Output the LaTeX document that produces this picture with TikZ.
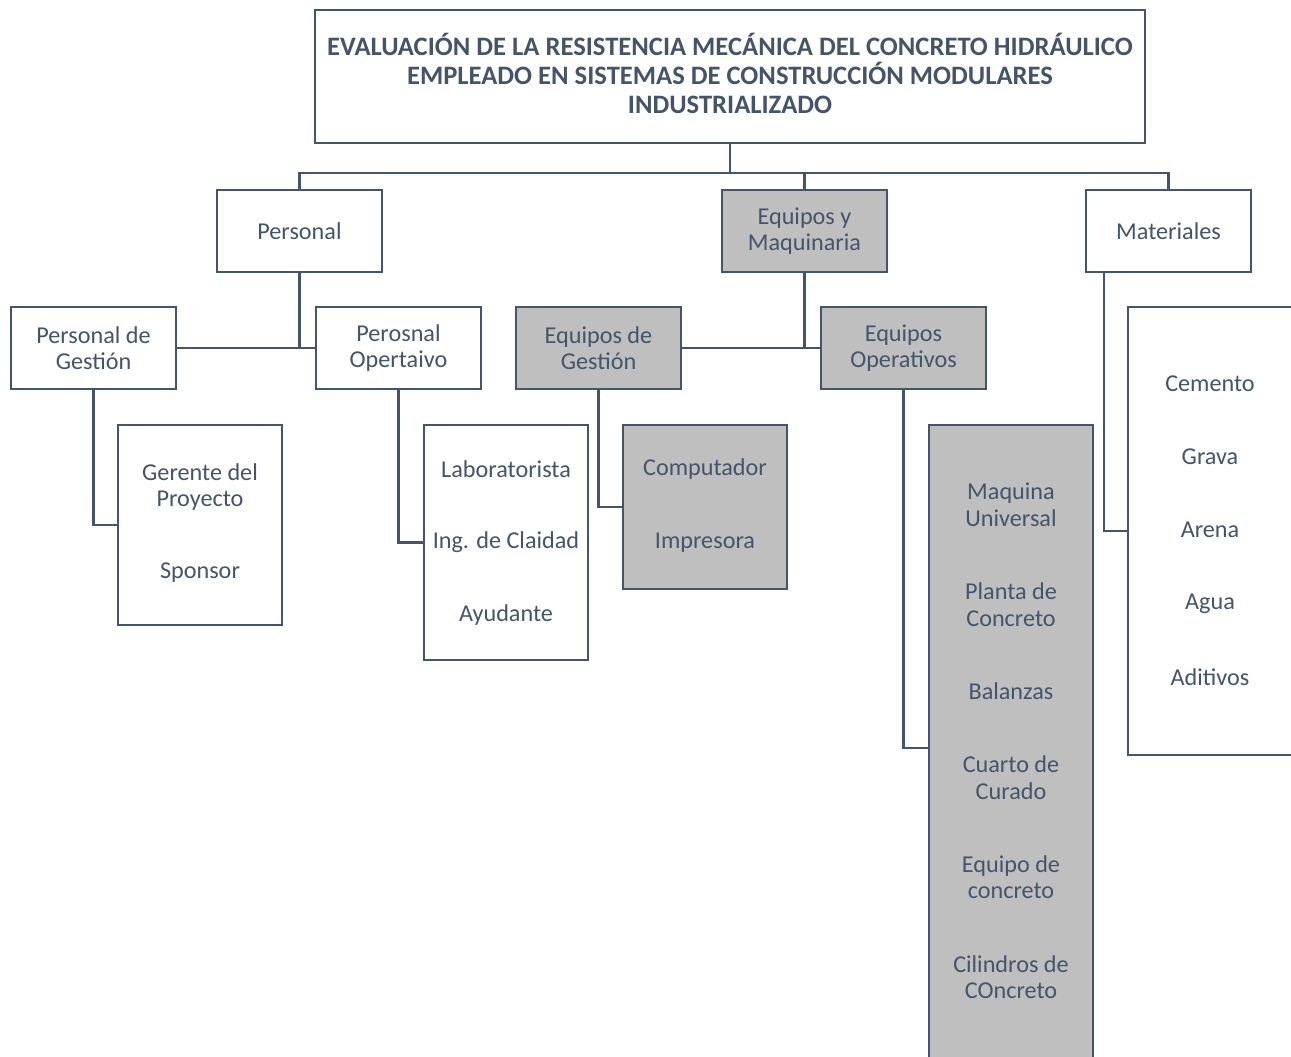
\documentclass[tikz,border=0pt]{standalone}
\usepackage{fontspec}
\setmainfont{Carlito}
\definecolor{ink}{HTML}{44546A}
\definecolor{shade}{HTML}{BFBFBF}
\begin{document}
\begin{tikzpicture}[x=1pt,y=-1pt,
  txt/.style={text=ink, align=center, inner sep=0pt, font=\fontsize{24.2}{26.5}\selectfont},
  box/.style={txt, draw=ink, line width=2.6pt, fill=white, minimum width=165pt, minimum height=82pt},
  gbox/.style={box, fill=shade},
  link/.style={draw=ink, line width=2.6pt, line join=miter}]
\fill[white] (0,0) rectangle (1291,1057);
\useasboundingbox (0,0) rectangle (1291,1057);

% title
\node[box, minimum width=830pt, minimum height=133pt] (title) at (730,76.5) {};
\node[txt, font=\bfseries\fontsize{26.6}{29}\selectfont] (titletext) at (730,73.5)
  {EVALUACIÓN DE LA RESISTENCIA MECÁNICA DEL CONCRETO HIDRÁULICO\\
   EMPLEADO EN SISTEMAS DE CONSTRUCCIÓN MODULARES\\
   INDUSTRIALIZADO};

% second level
\node[box]  (personal)   at (299.5,231) {Personal};
\node[gbox] (equipos)    at (804.5,231) {Equipos y\\Maquinaria};
\node[box]  (materiales) at (1168.5,231) {Materiales};

% third level
\node[box]  (pgestion) at (93.5,348)  {Personal de\\Gestión};
\node[box]  (poper)    at (398.5,348) {Perosnal\\Opertaivo};
\node[gbox] (egestion) at (598.5,348) {Equipos de\\Gestión};
\node[gbox] (eoper)    at (903.5,348) {Equipos\\Operativos};

% leaf boxes
\node[box, minimum width=164pt, minimum height=200pt] (gerente) at (200,525) {};
\node[txt] (gerenteA) at (200,487) {Gerente del\\Proyecto};
\node[txt] (gerenteB) at (200,573) {Sponsor};

\node[box, minimum width=164pt, minimum height=235pt] (lab) at (506,542.5) {};
\node[txt] (labA) at (506,469) {Laboratorista};
\node[txt] (labB) at (506,542) {Ing. de Claidad};
\node[txt] (labC) at (506,615) {Ayudante};

\node[gbox, minimum width=164pt, minimum height=164pt] (comp) at (705,507) {};
\node[txt] (compA) at (705,469) {Computador};
\node[txt] (compB) at (705,543) {Impresora};

\node[gbox, minimum width=164pt, minimum height=640pt] (ops) at (1011,745) {};
\node[txt] (opsA) at (1011,505)   {Maquina\\Universal};
\node[txt] (opsB) at (1011,604.5) {Planta de\\Concreto};
\node[txt] (opsC) at (1011,691)   {Balanzas};
\node[txt] (opsD) at (1011,777.5) {Cuarto de\\Curado};
\node[txt] (opsE) at (1011,877)   {Equipo de\\concreto};
\node[txt] (opsF) at (1011,977)   {Cilindros de\\COncreto};

\node[box, minimum width=166pt, minimum height=448pt] (mats) at (1211,531) {};
\node[txt] (matA) at (1210,384) {Cemento};
\node[txt] (matB) at (1210,457) {Grava};
\node[txt] (matC) at (1210,530) {Arena};
\node[txt] (matD) at (1210,604) {Agua};
\node[txt] (matE) at (1210,677) {Aditivos};

% connectors
\coordinate (bus) at (730,173);
\draw[link] (title.south) -- (bus);
\draw[link] (personal.north) -- (personal.north |- bus) -- (materiales.north |- bus) -- (materiales.north);
\draw[link] (equipos.north) -- (equipos.north |- bus);

\draw[link] (personal.south) -- (personal.south |- pgestion.east);
\draw[link] (pgestion.east) -- (poper.west);
\draw[link] (equipos.south) -- (equipos.south |- egestion.east);
\draw[link] (egestion.east) -- (eoper.west);

\draw[link] (pgestion.south) |- (gerente.west);
\draw[link] (poper.south) |- (lab.west);
\draw[link] (egestion.south) |- (comp.west);
\draw[link] (eoper.south) |- ([yshift=-3pt]ops.west);
\coordinate (matdrop) at ([xshift=-64.5pt]materiales.south);
\draw[link] (matdrop) |- (mats.west);
\end{tikzpicture}
\end{document}
